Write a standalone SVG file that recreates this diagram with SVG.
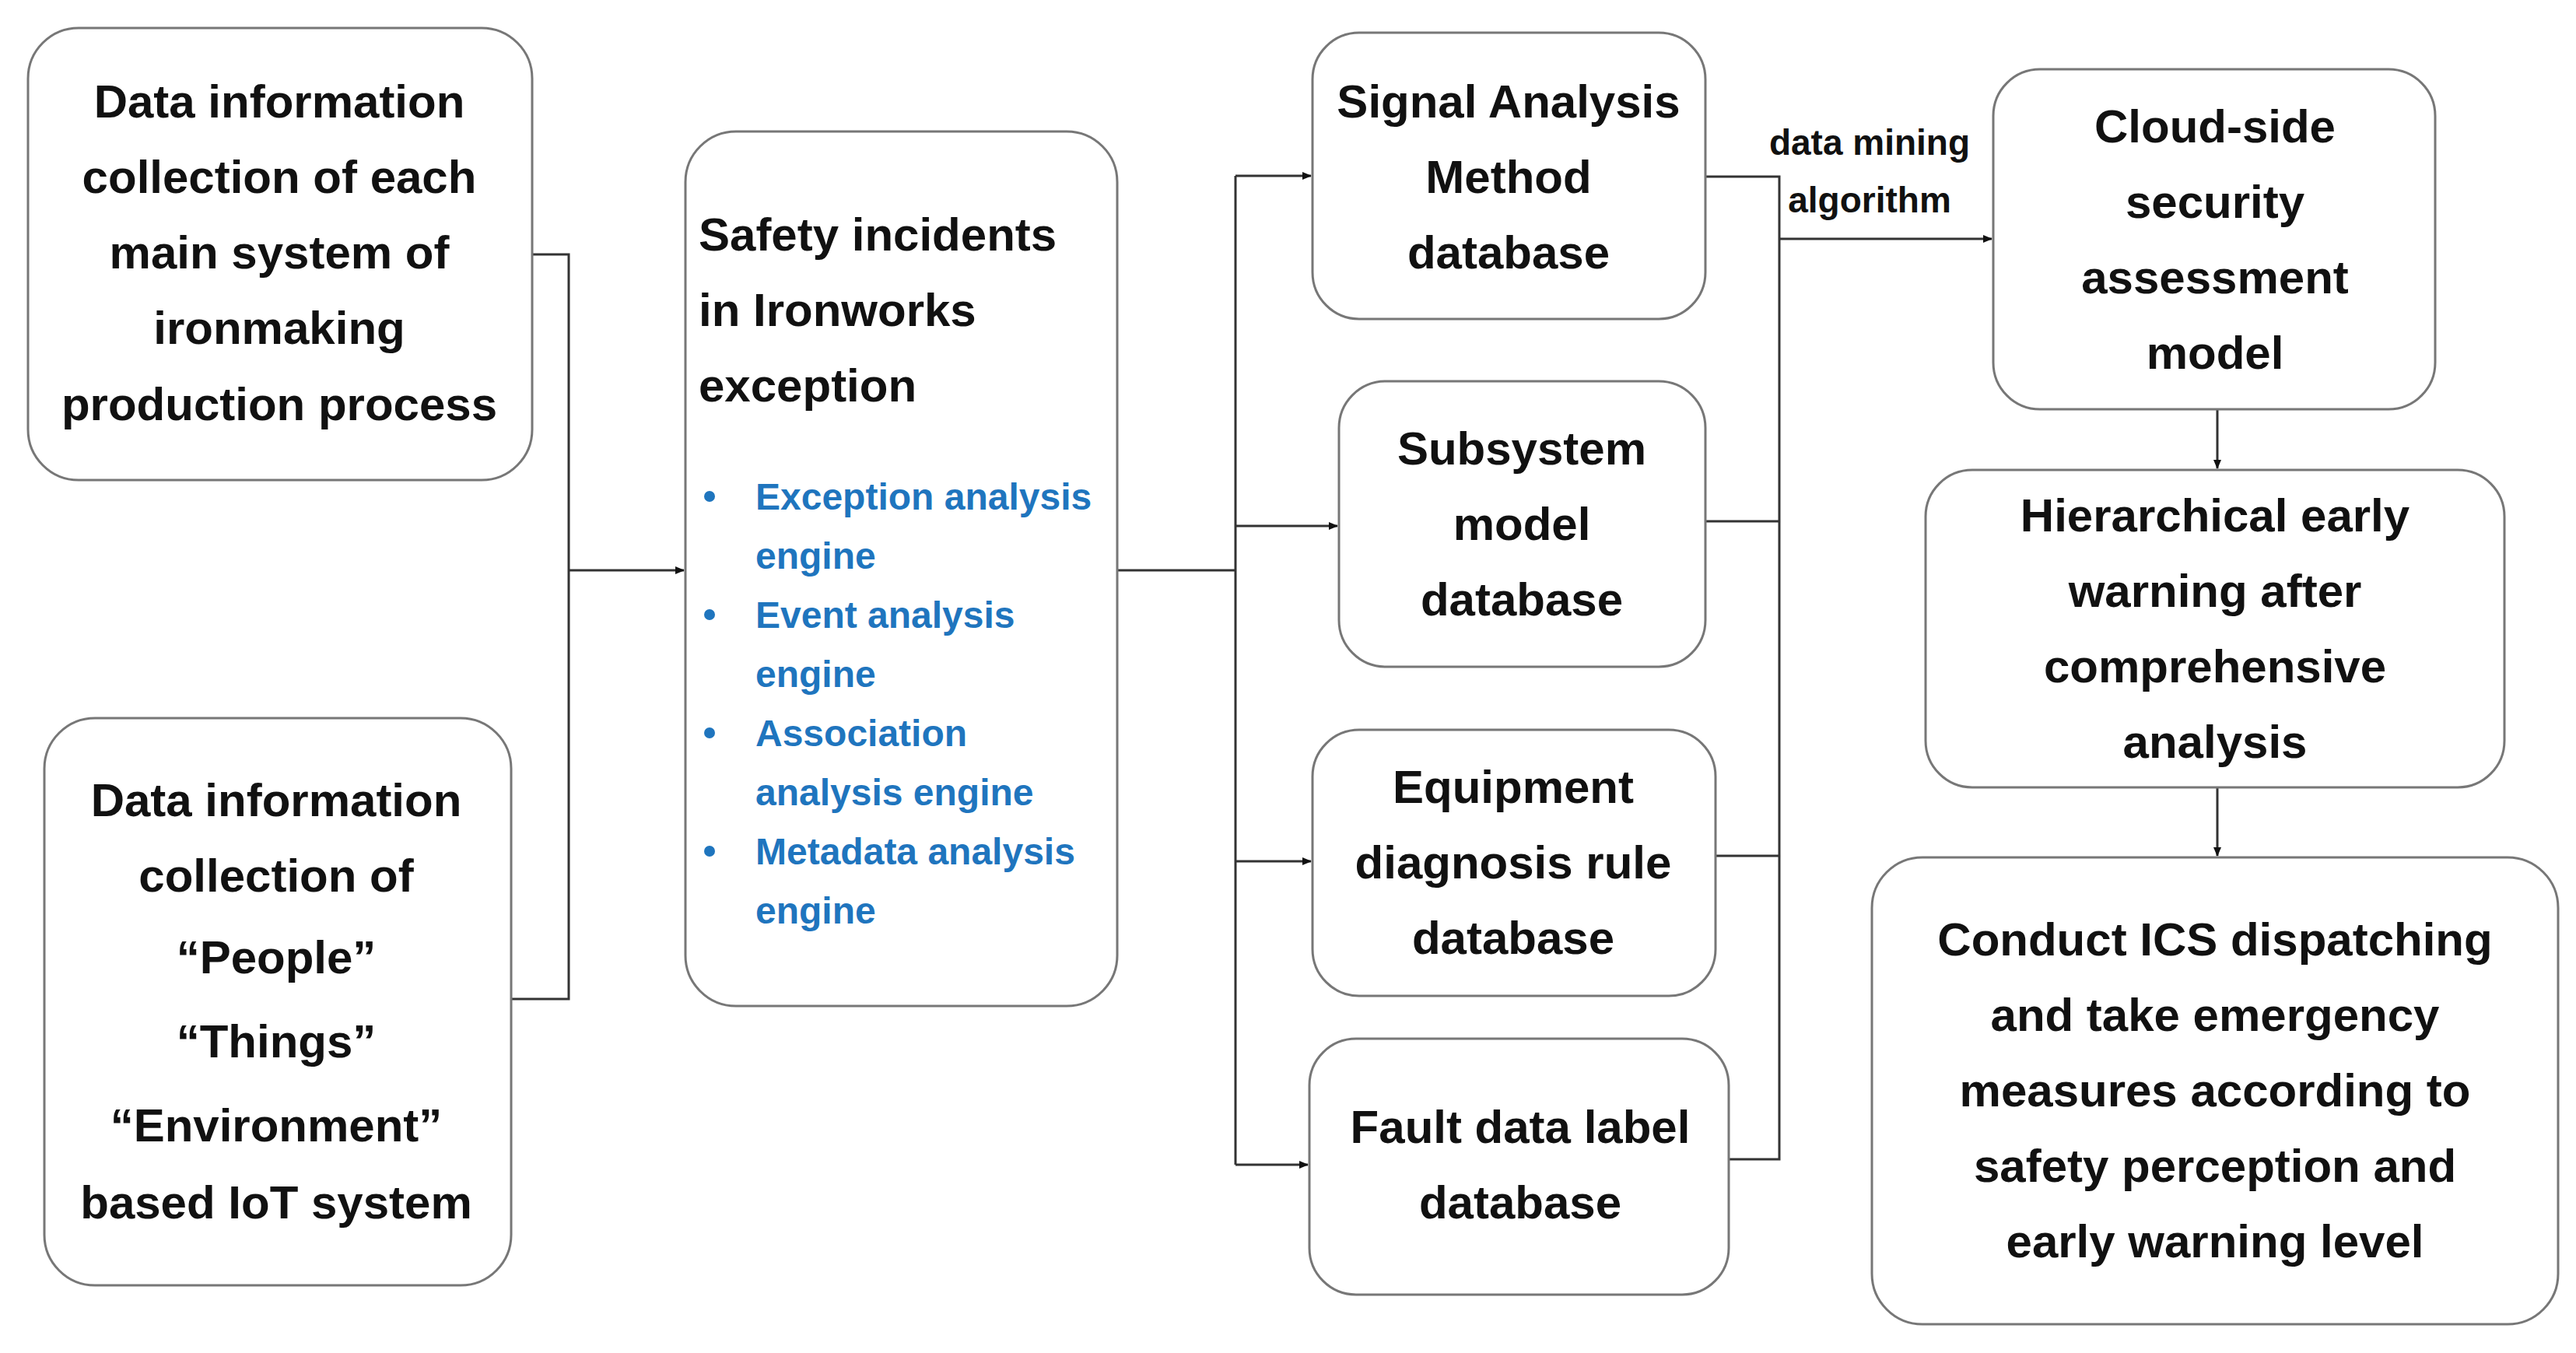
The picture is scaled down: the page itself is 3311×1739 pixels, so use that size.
<svg xmlns="http://www.w3.org/2000/svg" width="3311" height="1739" viewBox="0 0 3311 1739">
<style>
.b{fill:#fff;stroke:#777;stroke-width:3}
.t{font-family:"Liberation Sans",Arial,sans-serif;font-weight:bold;font-size:60px;fill:#111;text-anchor:middle}
.l{font-family:"Liberation Sans",Arial,sans-serif;font-weight:bold;font-size:60px;fill:#111}
.bl{font-family:"Liberation Sans",Arial,sans-serif;font-weight:bold;font-size:48px;fill:#1f75be}
.s{font-family:"Liberation Sans",Arial,sans-serif;font-weight:bold;font-size:46px;fill:#111;text-anchor:middle}
.c{fill:none;stroke:#333;stroke-width:3}
</style>
<defs><marker id="a" markerWidth="12" markerHeight="10" refX="11" refY="5" orient="auto" markerUnits="userSpaceOnUse" viewBox="0 0 12 10"><path d="M0,0L12,5L0,10Z" fill="#111"/></marker></defs>
<rect width="3311" height="1739" fill="#fff"/>
<g id="connectors">
<path class="c" d="M684,327H731V1284H657"/>
<path class="c" d="M731,733H879" marker-end="url(#a)"/>
<path class="c" d="M1436,733H1588"/>
<path class="c" d="M1588,226V1497"/>
<path class="c" d="M1588,226H1685" marker-end="url(#a)"/>
<path class="c" d="M1588,676H1719" marker-end="url(#a)"/>
<path class="c" d="M1588,1107H1685" marker-end="url(#a)"/>
<path class="c" d="M1588,1497H1681" marker-end="url(#a)"/>
<path class="c" d="M2192,227H2287V1490H2222M2192,670H2287M2205,1100H2287"/>
<path class="c" d="M2287,307H2560" marker-end="url(#a)"/>
<path class="c" d="M2850,526V602" marker-end="url(#a)"/>
<path class="c" d="M2850,1012V1100" marker-end="url(#a)"/>
<text class="s" x="2403" y="199">data mining</text>
<text class="s" x="2403" y="273">algorithm</text>
</g>
<g id="n1"><rect class="b" x="36" y="36" width="648" height="581" rx="65"/>
<text class="t" x="359" y="151">Data information</text><text class="t" x="359" y="248">collection of each</text><text class="t" x="359" y="345">main system of</text><text class="t" x="359" y="442">ironmaking</text><text class="t" x="359" y="540">production process</text></g>
<g id="n2"><rect class="b" x="57" y="923" width="600" height="729" rx="65"/>
<text class="t" x="355" y="1049">Data information</text><text class="t" x="355" y="1146">collection of</text><text class="t" x="355" y="1251">“People”</text><text class="t" x="355" y="1359">“Things”</text><text class="t" x="355" y="1467">“Environment”</text><text class="t" x="355" y="1566">based IoT system</text></g>
<g id="n3"><rect class="b" x="881" y="169" width="555" height="1124" rx="65"/>
<text class="l" x="898" y="322">Safety incidents</text><text class="l" x="898" y="419">in Ironworks</text><text class="l" x="898" y="516">exception</text>
<g fill="#1f75be"><circle cx="912" cy="638" r="7"/><circle cx="912" cy="790" r="7"/><circle cx="912" cy="942" r="7"/><circle cx="912" cy="1094" r="7"/></g>
<text class="bl" x="971" y="655">Exception analysis</text><text class="bl" x="971" y="731">engine</text><text class="bl" x="971" y="807">Event analysis</text><text class="bl" x="971" y="883">engine</text><text class="bl" x="971" y="959">Association</text><text class="bl" x="971" y="1035">analysis engine</text><text class="bl" x="971" y="1111">Metadata analysis</text><text class="bl" x="971" y="1187">engine</text></g>
<g id="n4"><rect class="b" x="1687" y="42" width="505" height="368" rx="60"/>
<text class="t" x="1939" y="151">Signal Analysis</text><text class="t" x="1939" y="248">Method</text><text class="t" x="1939" y="345">database</text></g>
<g id="n5"><rect class="b" x="1721" y="490" width="471" height="367" rx="60"/>
<text class="t" x="1956" y="597">Subsystem</text><text class="t" x="1956" y="694">model</text><text class="t" x="1956" y="791">database</text></g>
<g id="n6"><rect class="b" x="1687" y="938" width="518" height="342" rx="60"/>
<text class="t" x="1945" y="1032">Equipment</text><text class="t" x="1945" y="1129">diagnosis rule</text><text class="t" x="1945" y="1226">database</text></g>
<g id="n7"><rect class="b" x="1683" y="1335" width="539" height="329" rx="60"/>
<text class="t" x="1954" y="1469">Fault data label</text><text class="t" x="1954" y="1566">database</text></g>
<g id="n8"><rect class="b" x="2562" y="89" width="568" height="437" rx="60"/>
<text class="t" x="2847" y="183">Cloud-side</text><text class="t" x="2847" y="280">security</text><text class="t" x="2847" y="377">assessment</text><text class="t" x="2847" y="474">model</text></g>
<g id="n9"><rect class="b" x="2475" y="604" width="744" height="408" rx="60"/>
<text class="t" x="2847" y="683">Hierarchical early</text><text class="t" x="2847" y="780">warning after</text><text class="t" x="2847" y="877">comprehensive</text><text class="t" x="2847" y="974">analysis</text></g>
<g id="n10"><rect class="b" x="2406" y="1102" width="882" height="600" rx="65"/>
<text class="t" x="2847" y="1228">Conduct ICS dispatching</text><text class="t" x="2847" y="1325">and take emergency</text><text class="t" x="2847" y="1422">measures according to</text><text class="t" x="2847" y="1519">safety perception and</text><text class="t" x="2847" y="1616">early warning level</text></g>
</svg>
